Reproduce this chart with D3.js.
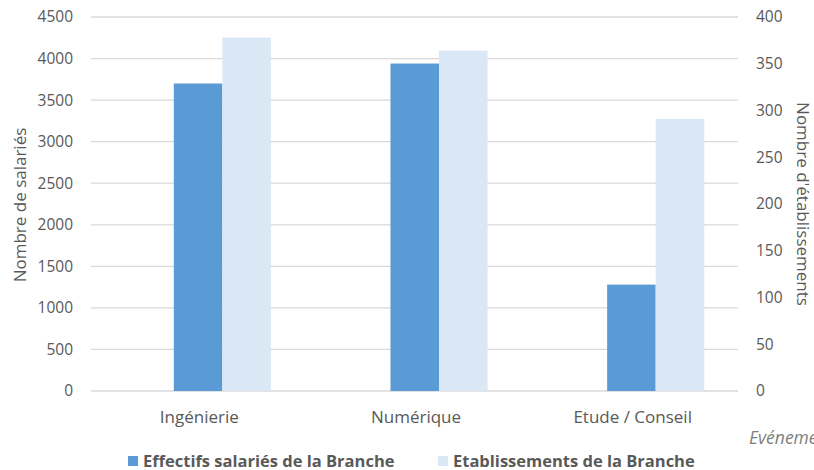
<!DOCTYPE html>
<html>
<head>
<meta charset="utf-8">
<script src="https://cdn.jsdelivr.net/npm/d3@7"></script>
<style>
  body { margin: 0; background: #fff; }
  svg { display: block; font-family: "Open Sans", "Noto Sans", sans-serif; }
</style>
</head>
<body>
<svg id="chart" width="814" height="470"></svg>
<script>
const categories = ['Ingénierie', 'Numérique', 'Etude / Conseil'];
const salaries = [3700, 3940, 1280];
const etablissements = [378, 364, 291];
const leftTicks = [0, 500, 1000, 1500, 2000, 2500, 3000, 3500, 4000, 4500];
const rightTicks = [0, 50, 100, 150, 200, 250, 300, 350, 400];
const seriesNames = ['Effectifs salariés de la Branche', 'Etablissements de la Branche'];

const svg = d3.select('#chart');
const plot = { left: 91, right: 738, top: 17, bottom: 391 };
const textColor = '#595959';
// in the original the bar groups sit a bit right of their labels
const barShift = 23;

const x = d3.scaleBand().domain(categories).range([plot.left, plot.left + 650]).paddingInner(0.552).paddingOuter(0.276);
const inner = d3.scaleBand().domain([0, 1]).range([0, x.bandwidth()]);
const yL = d3.scaleLinear().domain([0, 4500]).range([plot.bottom, plot.top]);
const yR = d3.scaleLinear().domain([0, 400]).range([plot.bottom, plot.top]);

// gridlines
svg.append('g')
    .selectAll('line')
    .data(leftTicks)
    .enter()
    .append('line')
    .attr('x1', plot.left)
    .attr('x2', plot.right)
    .attr('y1', d => yL(d))
    .attr('y2', d => yL(d))
    .attr('stroke', '#d9d9d9')
    .attr('stroke-width', 1.3);

// bars
svg.append('g')
    .selectAll('rect')
    .data(categories)
    .enter()
    .append('rect')
    .attr('x', d => x(d) + inner(0) + barShift)
    .attr('width', inner.bandwidth())
    .attr('y', (d, i) => yL(salaries[i]))
    .attr('height', (d, i) => plot.bottom - yL(salaries[i]))
    .attr('fill', '#5b9bd5');

svg.append('g')
    .selectAll('rect')
    .data(categories)
    .enter()
    .append('rect')
    .attr('x', d => x(d) + inner(1) + barShift)
    .attr('width', inner.bandwidth())
    .attr('y', (d, i) => yR(etablissements[i]))
    .attr('height', (d, i) => plot.bottom - yR(etablissements[i]))
    .attr('fill', '#dae7f5');

// axes
const axisL = svg.append('g')
    .attr('transform', `translate(${plot.left - 18},0)`)
    .call(d3.axisLeft(yL).tickValues(leftTicks).tickFormat(d3.format('d')).tickSize(0).tickPadding(0));
const axisR = svg.append('g')
    .attr('transform', `translate(756,0)`)
    .call(d3.axisRight(yR).tickValues(rightTicks).tickFormat(d3.format('d')).tickSize(0).tickPadding(0));
const axisX = svg.append('g')
    .attr('transform', `translate(0,${plot.bottom + 20})`)
    .call(d3.axisBottom(x).tickSize(0).tickPadding(0));

[axisL, axisR, axisX].forEach(a => {
    a.select('.domain').remove();
    a.selectAll('text')
        .attr('fill', textColor)
        .style('font-size', '15.5px')
        .style('font-family', '"Open Sans", sans-serif');
});
axisX.selectAll('text').style('font-size', '17px');

// axis titles
svg.append('text')
    .attr('transform', `translate(26,${(plot.top + plot.bottom) / 2 + 1}) rotate(-90)`)
    .attr('text-anchor', 'middle')
    .attr('fill', textColor)
    .style('font-size', '17px')
    .text('Nombre de salariés');

svg.append('text')
    .attr('transform', `translate(797,${(plot.top + plot.bottom) / 2}) rotate(90)`)
    .attr('text-anchor', 'middle')
    .attr('fill', textColor)
    .style('font-size', '17px')
    .text("Nombre d'établissements");

// source note, cut by the right edge as in the original
svg.append('text')
    .attr('x', 749)
    .attr('y', 444)
    .attr('fill', '#7f7f7f')
    .style('font-size', '17.5px')
    .style('font-style', 'italic')
    .text('Evénements');

// legend
const legendX = [128, 438];
const legendColors = ['#5b9bd5', '#dae7f5'];
const legend = svg.append('g')
    .selectAll('g')
    .data(seriesNames)
    .enter()
    .append('g')
    .attr('transform', (d, i) => `translate(${legendX[i]},456)`);

legend.append('rect')
    .attr('width', 10)
    .attr('height', 10)
    .attr('fill', (d, i) => legendColors[i]);

legend.append('text')
    .attr('x', 15)
    .attr('y', 10.5)
    .attr('fill', textColor)
    .style('font-size', '16.5px')
    .style('font-weight', 'bold')
    .text(d => d);
</script>
</body>
</html>
